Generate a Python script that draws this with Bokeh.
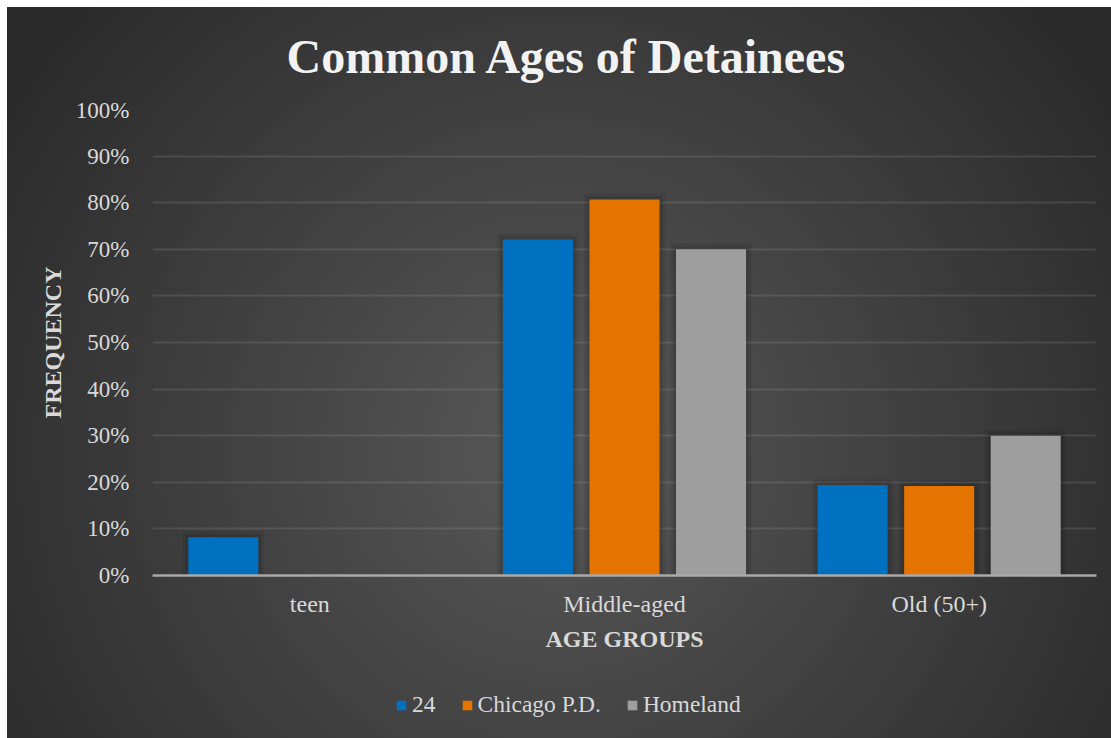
from bokeh.plotting import figure
from bokeh.layouts import column
from bokeh.models import (ColumnDataSource, FactorRange, Range1d, FixedTicker,
                          NumeralTickFormatter, Legend, LegendItem, Label)
from bokeh.transform import dodge
from bokeh.embed import file_html
from bokeh.resources import INLINE

# Share of detainees per age group, by TV series
age_groups = ["teen", "Middle-aged", "Old (50+)"]
series_names = ["24", "Chicago P.D.", "Homeland"]
share_24 = [0.082, 0.721, 0.194]
share_chicago_pd = [0.0, 0.807, 0.192]
share_homeland = [0.0, 0.700, 0.300]
y_ticks = [0.0, 0.1, 0.2, 0.3, 0.4, 0.5, 0.6, 0.7, 0.8, 0.9, 1.0]
chart_title = "Common Ages of Detainees"

series_values = [share_24, share_chicago_pd, share_homeland]
series_colors = ["#0070c0", "#e57300", "#9e9e9e"]
offsets = [-0.275, 0.0, 0.275]
bar_width = 0.2225

SERIF = "Liberation Serif"
TEXT = "#d9d9d9"
FRAME_W = 944


def bare(fig):
    fig.border_fill_color = None
    fig.background_fill_color = None
    fig.outline_line_color = None


# header strip carrying the title
head = figure(width=1104, height=90, x_range=Range1d(0, FRAME_W), y_range=Range1d(0, 90),
              min_border_left=145, min_border_right=15, min_border_top=0, min_border_bottom=0,
              x_axis_location=None, y_axis_location=None,
              output_backend="svg", toolbar_location=None)
bare(head)
head.grid.visible = False
head.add_layout(Label(x=134, y=41, text=chart_title, text_font=SERIF,
                      text_font_size="48px", text_font_style="bold",
                      text_color="#f2f2f2", text_baseline="middle"))

# main chart
p = figure(
    x_range=FactorRange(*age_groups, range_padding=0.0),
    y_range=Range1d(0, 1),
    width=1104, height=575,
    min_border_left=145, min_border_right=15,
    min_border_top=12, min_border_bottom=97,
    output_backend="svg", toolbar_location=None,
)
bare(p)

# soft shadow layers behind the bars
for vals, off in zip(series_values, offsets):
    for pad_px, alpha in ((6, 0.07), (3, 0.10)):
        tops = [v + pad_px / 466 if v > 0 else 0 for v in vals]
        src = ColumnDataSource(dict(cat=age_groups, top=tops))
        p.vbar(x=dodge("cat", off, range=p.x_range), top="top", bottom=0,
               width=bar_width + 2 * pad_px / 314.67, source=src,
               fill_color="black", fill_alpha=alpha, line_color=None)

sources = []
for vals, color, off in zip(series_values, series_colors, offsets):
    src = ColumnDataSource(dict(cat=age_groups, top=vals))
    sources.append(src)
    p.vbar(x=dodge("cat", off, range=p.x_range), top="top", bottom=0,
           width=bar_width, source=src, fill_color=color, line_color=None)

# grid
p.xgrid.grid_line_color = None
p.ygrid.grid_line_color = "#ffffff"
p.ygrid.grid_line_alpha = 0.10
p.ygrid.grid_line_width = 2

# y axis
p.yaxis.ticker = FixedTicker(ticks=y_ticks)
p.yaxis.formatter = NumeralTickFormatter(format="0%")
p.yaxis.axis_line_color = None
p.yaxis.major_tick_line_color = None
p.yaxis.minor_tick_line_color = None
p.yaxis.major_label_standoff = 17
p.yaxis.major_label_text_font = SERIF
p.yaxis.major_label_text_font_size = "23px"
p.yaxis.major_label_text_color = TEXT
p.yaxis.axis_label = "FREQUENCY"
p.yaxis.axis_label_text_font = SERIF
p.yaxis.axis_label_text_font_size = "24px"
p.yaxis.axis_label_text_font_style = "bold"
p.yaxis.axis_label_text_color = TEXT
p.yaxis.axis_label_standoff = 7

# x axis
p.xaxis.axis_line_color = "#a9a9a9"
p.xaxis.axis_line_width = 2.5
p.xaxis.major_tick_line_color = None
p.xaxis.minor_tick_line_color = None
p.xaxis.major_label_standoff = 9
p.xaxis.major_label_text_font = SERIF
p.xaxis.major_label_text_font_size = "24px"
p.xaxis.major_label_text_color = TEXT
p.xaxis.axis_label = "AGE GROUPS"
p.xaxis.axis_label_text_font = SERIF
p.xaxis.axis_label_text_font_size = "24px"
p.xaxis.axis_label_text_font_style = "bold"
p.xaxis.axis_label_text_color = TEXT
p.xaxis.axis_label_standoff = 6

# legend strip under the chart; the series are plotted out of view so only the legend shows
lg = figure(width=1104, height=66, x_range=FactorRange(*age_groups), y_range=Range1d(10, 11),
            min_border_left=145, min_border_right=15, min_border_top=0, min_border_bottom=0,
            x_axis_location=None, y_axis_location=None,
            output_backend="svg", toolbar_location=None)
bare(lg)
lg.grid.visible = False

items = []
for name, src, color, off in zip(series_names, sources, series_colors, offsets):
    r = lg.vbar(x=dodge("cat", off, range=lg.x_range), top="top", bottom=0,
                width=bar_width, source=src, fill_color=color, line_color=None)
    items.append(LegendItem(label=name, renderers=[r]))

legend = Legend(items=items, orientation="horizontal", location=(243, 20),
                glyph_width=12, glyph_height=12, label_standoff=5, spacing=25,
                padding=0, margin=0, border_line_color=None,
                background_fill_alpha=0, label_text_font=SERIF,
                label_text_font_size="23.5px", label_text_color=TEXT,
                label_height=24)
lg.add_layout(legend, "center")

page = column(head, p, lg, spacing=0)
page.margin = (7, 0, 0, 7)
page.styles = {"background": "radial-gradient(circle 660px at 553px 443px, #585858 0%, #2a2a2a 100%)"}

open("out.html", "w").write(file_html(page, INLINE))
